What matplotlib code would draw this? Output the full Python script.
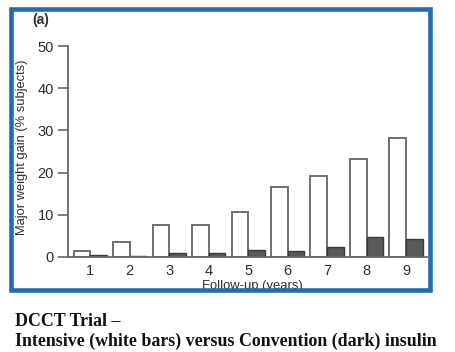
import matplotlib
matplotlib.use("Agg")
import matplotlib.pyplot as plt
import numpy as np
from matplotlib.patches import Rectangle

# --- Data ---
years = [1, 2, 3, 4, 5, 6, 7, 8, 9]
intensive = [1.4, 3.5, 7.5, 7.5, 10.7, 16.6, 19.2, 23.2, 28.2]
conventional = [0.4, 0.3, 1.0, 1.0, 1.6, 1.4, 2.4, 4.8, 4.3]
y_ticks = [0, 10, 20, 30, 40, 50]

W, H = 456, 352
fig = plt.figure(figsize=(W / 100, H / 100), dpi=100)
fig.patch.set_facecolor("white")

def fx(px):
    return px / W

def fy(py):
    return 1 - py / H

# axes box in pixel coordinates of the reference
left, right, top, bottom = 68, 427, 46, 257
ax = fig.add_axes([fx(left), fy(bottom), fx(right - left), fy(top) - fy(bottom)])

x = np.array(years)
bw = 0.42
ax.bar(x - bw / 2, intensive, width=bw, color="white", edgecolor="#707070", linewidth=1.4)
ax.bar(x + bw / 2, conventional, width=bw, color="#5a5a5a", edgecolor="#3a3a3a", linewidth=1.0)

ax.set_xlim(0.44, 9.53)
ax.set_ylim(0, 50)
ax.set_yticks(y_ticks)
ax.set_xticks(years)

for s in ["top", "right"]:
    ax.spines[s].set_visible(False)
for s in ["left", "bottom"]:
    ax.spines[s].set_color("#666666")
    ax.spines[s].set_linewidth(1.3)

ax.tick_params(axis="y", length=7, width=1.2, color="#666666", labelsize=10.5,
               labelcolor="#2e2e2e", pad=3)
ax.tick_params(axis="x", length=0, labelsize=10.5, labelcolor="#2e2e2e", pad=5)
for lab in ax.get_xticklabels() + ax.get_yticklabels():
    lab.set_fontfamily("Liberation Sans")

ax.set_ylabel("Major weight gain (% subjects)", fontsize=9.3, color="#2e2e2e",
              fontfamily="Liberation Sans")
ax.yaxis.set_label_coords(-0.112, 0.52)

# x label sits partly under the blue frame, as in the original
fig.text(fx(252), fy(286), "Follow-up (years)", fontsize=9.4, color="#2e2e2e",
         fontfamily="Liberation Sans", ha="center", va="center")
fig.text(fx(41), fy(20), "(a)", fontsize=10, color="#2e2e2e", fontweight="bold",
         fontfamily="Liberation Sans", ha="center", va="center")

# blue frame around the figure panel
frame = Rectangle((fx(11), fy(290)), fx(430 - 11), fy(9) - fy(290),
                  transform=fig.transFigure, fill=False, edgecolor="#1f6db3",
                  linewidth=3.3, zorder=10)
fig.patches.append(frame)

# caption
fig.text(fx(15), fy(322), "DCCT Trial \u2013", fontsize=12.9, fontweight="bold",
         fontfamily="Liberation Serif", color="#111111", ha="left", va="center")
fig.text(fx(15), fy(341), "Intensive (white bars) versus Convention (dark) insulin",
         fontsize=12.9, fontweight="bold", fontfamily="Liberation Serif",
         color="#111111", ha="left", va="center")

fig.savefig("out.png", dpi=100, facecolor="white")
